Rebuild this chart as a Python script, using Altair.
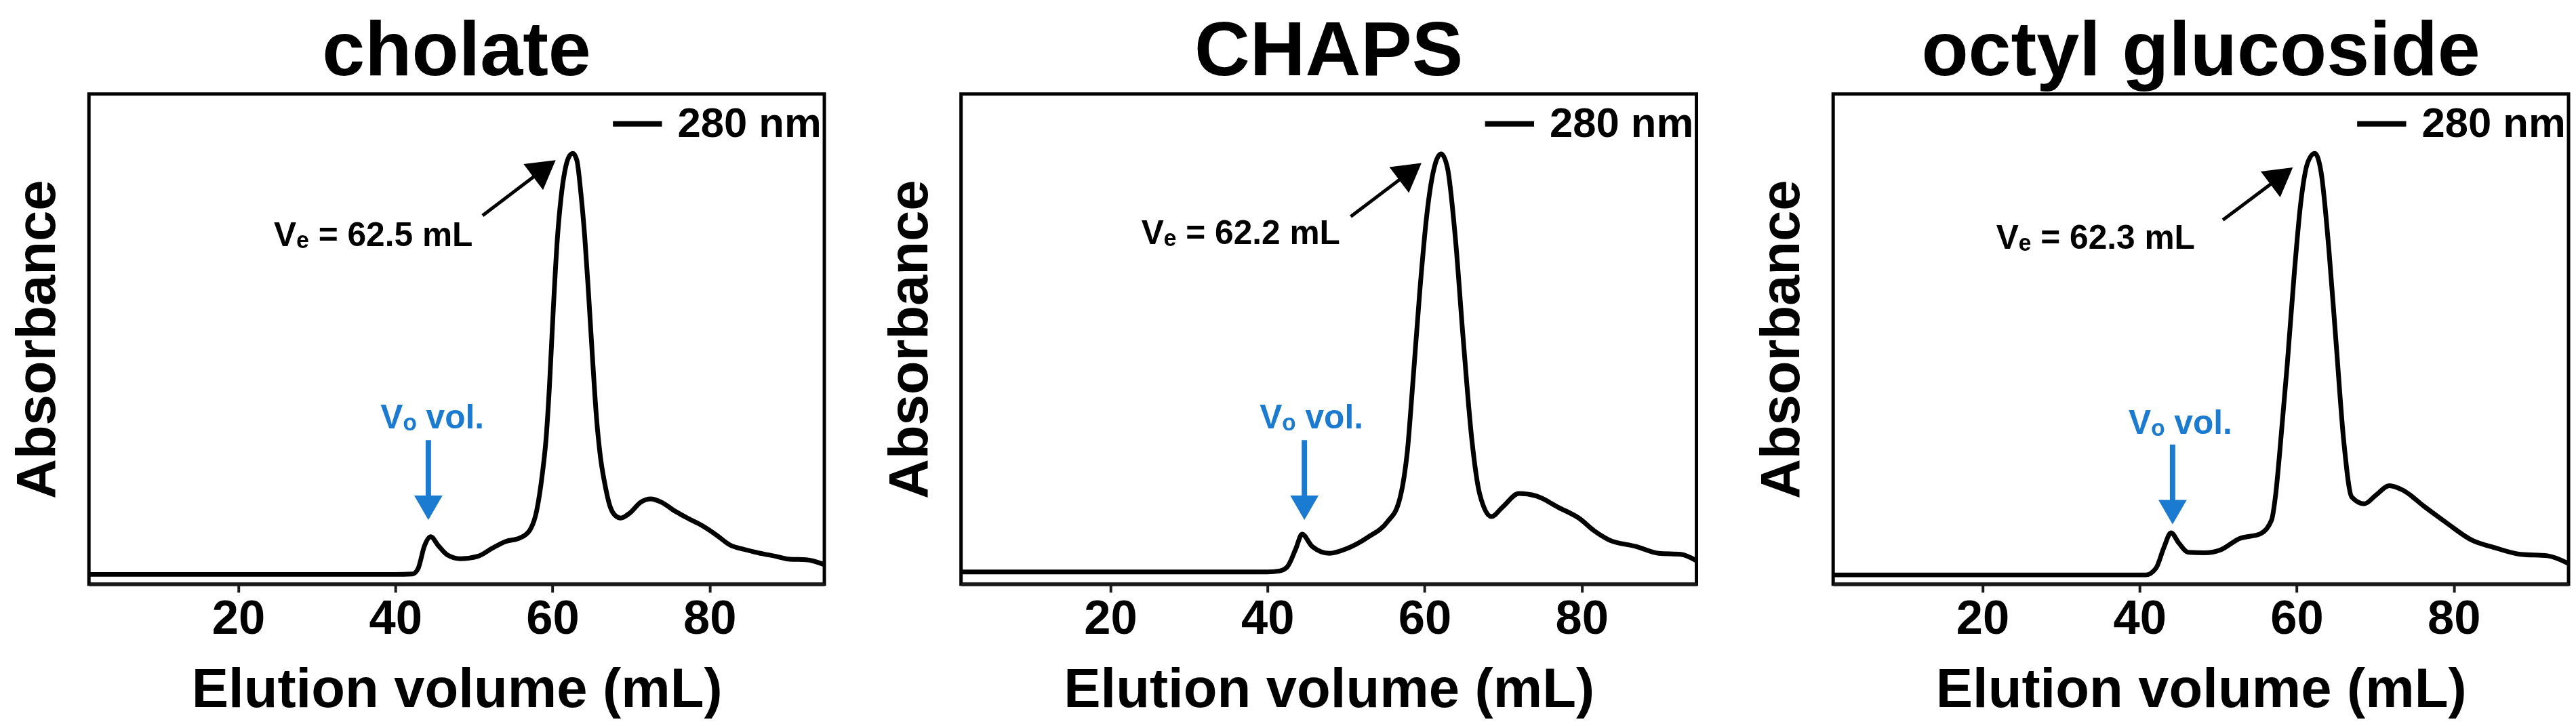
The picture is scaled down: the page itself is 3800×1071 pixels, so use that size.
import altair as alt
import pandas as pd

# ---------------- data ----------------
panel_titles = ["cholate", "CHAPS", "octyl glucoside"]
ve_labels = ["Vₑ = 62.5 mL", "Vₑ = 62.2 mL", "Vₑ = 62.3 mL"]
vo_label = "Vₒ vol."
legend_label = "280 nm"
x_ticks = [20, 40, 60, 80]

cholate_vol = [1, 10, 20, 30, 40, 42.2, 42.9, 43.7, 44.5, 45.5, 46.6, 48.3, 50.5, 52.3, 54.0,
               55.8, 57.1, 58.0, 58.7, 59.2, 59.6, 60.1, 60.6, 61.1, 61.6, 62.1, 62.6, 63.1,
               63.6, 64.1, 64.6, 65.1, 65.6, 66.1, 66.6, 67.3, 68.0, 68.7, 69.9, 71.2, 72.5,
               73.9, 75.6, 77.4, 79.1, 80.9, 82.6, 84.4, 86.2, 88.4, 90.2, 92.3, 94.6]
cholate_abs = [0.02, 0.02, 0.02, 0.02, 0.02, 0.021, 0.032, 0.078, 0.097, 0.078, 0.06, 0.052,
               0.057, 0.073, 0.087, 0.094, 0.11, 0.151, 0.224, 0.30, 0.40, 0.56, 0.70, 0.79,
               0.845, 0.872, 0.879, 0.865, 0.80, 0.71, 0.59, 0.46, 0.34, 0.26, 0.21, 0.16,
               0.14, 0.135, 0.146, 0.167, 0.174, 0.167, 0.149, 0.133, 0.119, 0.10, 0.08,
               0.071, 0.064, 0.057, 0.051, 0.05, 0.04]

chaps_vol = [1, 20, 40, 41.5, 42.5, 43.6, 44.4, 45.7, 47.9, 50.0, 52.8, 55.3, 56.7, 57.4,
             57.8, 58.5, 59.4, 60.3, 61.4, 62.1, 62.9, 63.9, 64.9, 66.0, 67.0, 68.5, 69.9,
             72.0, 74.2, 77.0, 79.8, 81.5, 83.4, 86.9, 89.8, 92.6, 94.6]
chaps_abs = [0.025, 0.025, 0.025, 0.027, 0.035, 0.072, 0.102, 0.077, 0.063, 0.072, 0.096,
             0.128, 0.166, 0.22, 0.27, 0.41, 0.60, 0.756, 0.86, 0.878, 0.85, 0.709, 0.503,
             0.297, 0.185, 0.138, 0.157, 0.185, 0.18, 0.157, 0.133, 0.11, 0.091, 0.077,
             0.063, 0.061, 0.048]

octyl_vol = [1, 20, 40.8, 42.1, 43.1, 44.0, 45.0, 46.2, 48.3, 50.3, 52.7, 55.4, 56.8, 57.3,
             57.8, 58.8, 59.7, 60.5, 61.4, 62.3, 63.1, 64.1, 65.0, 66.0, 67.0, 68.6, 70.1,
             71.8, 73.5, 76.2, 79.0, 82.4, 85.1, 88.5, 91.9, 94.6]
octyl_abs = [0.019, 0.019, 0.019, 0.033, 0.075, 0.105, 0.084, 0.065, 0.064, 0.07, 0.093,
             0.103, 0.131, 0.18, 0.262, 0.449, 0.636, 0.776, 0.86, 0.879, 0.841, 0.682,
             0.495, 0.29, 0.178, 0.164, 0.182, 0.201, 0.192, 0.159, 0.126, 0.089, 0.075,
             0.061, 0.058, 0.042]

# annotation anchors (data units)
ve_text_x = [37.2, 36.6, 34.4]
ve_text_y = [0.71, 0.715, 0.705]
ve_tail_x = [51.1, 50.6, 50.6]
ve_tail_y = [0.752, 0.75, 0.743]
ve_tip_x = [60.4, 59.6, 59.5]
ve_tip_y = [0.865, 0.859, 0.85]
vo_x = [44.2, 44.7, 44.2]
vo_text_x = [44.7, 45.6, 45.2]
vo_text_y = [0.338, 0.338, 0.328]
vo_top_y = [0.294, 0.294, 0.285]
vo_tip_y = [0.131, 0.131, 0.122]

series_vol = [cholate_vol, chaps_vol, octyl_vol]
series_abs = [cholate_abs, chaps_abs, octyl_abs]

BLUE = "#1a7bd0"
FONT = "Liberation Sans"
XDOM = [1, 94.6]


def X(field="x"):
    return alt.X(f"{field}:Q",
                 scale=alt.Scale(domain=XDOM, nice=False, zero=False),
                 axis=alt.Axis(values=x_ticks, grid=False),
                 title="Elution volume (mL)")


def Y(field="y"):
    return alt.Y(f"{field}:Q",
                 scale=alt.Scale(domain=[0, 1], nice=False, zero=False),
                 axis=alt.Axis(labels=False, ticks=False, domain=False, grid=False),
                 title="Absorbance")


def panel(i):
    df = pd.DataFrame({"x": series_vol[i], "y": series_abs[i], "series": legend_label})
    line = alt.Chart(df).mark_line(strokeWidth=7, interpolate="monotone", clip=True).encode(
        x=X(), y=Y(),
        color=alt.Color("series:N",
                        scale=alt.Scale(domain=[legend_label], range=["#000000"]),
                        legend=alt.Legend(title=None, orient="top-right", offset=4, padding=0,
                                          symbolType="stroke", symbolStrokeWidth=8,
                                          symbolSize=5300, labelFontSize=62, labelFont=FONT,
                                          labelFontWeight="bold", labelOffset=19,
                                          labelColor="black", labelLimit=400)))

    # black arrow to main peak
    hx = ve_tip_x[i] - 1.42
    hy = ve_tip_y[i] - 0.0172
    shaft = alt.Chart(pd.DataFrame({"x": [ve_tail_x[i]], "y": [ve_tail_y[i]],
                                    "x2": [hx], "y2": [hy]})).mark_rule(
        strokeWidth=5, color="black").encode(x=X(), y=Y(), x2="x2:Q", y2="y2:Q")
    head = alt.Chart(pd.DataFrame({"x": [hx], "y": [hy]})).mark_point(
        shape="triangle-up", filled=True, size=2304, angle=53, color="black",
        opacity=1, strokeWidth=0).encode(x=X(), y=Y())
    ve_txt = alt.Chart(pd.DataFrame({"x": [ve_text_x[i]], "y": [ve_text_y[i]],
                                     "label": [ve_labels[i]]})).mark_text(
        fontSize=50, font=FONT, fontWeight="bold", color="black",
        align="center", baseline="middle").encode(x=X(), y=Y(), text="label:N")

    # blue void-volume arrow
    vhy = vo_tip_y[i] + 0.025
    vshaft = alt.Chart(pd.DataFrame({"x": [vo_x[i]], "y": [vo_top_y[i]],
                                     "y2": [vhy]})).mark_rule(
        strokeWidth=8, color=BLUE).encode(x=X(), y=Y(), y2="y2:Q")
    vhead = alt.Chart(pd.DataFrame({"x": [vo_x[i]], "y": [vhy]})).mark_point(
        shape="triangle-down", filled=True, size=1764, color=BLUE,
        opacity=1, strokeWidth=0).encode(x=X(), y=Y())
    vo_txt = alt.Chart(pd.DataFrame({"x": [vo_text_x[i]], "y": [vo_text_y[i]],
                                     "label": [vo_label]})).mark_text(
        fontSize=50, font=FONT, fontWeight="bold", color=BLUE,
        align="center", baseline="middle").encode(x=X(), y=Y(), text="label:N")

    return alt.layer(line, shaft, head, ve_txt, vshaft, vhead, vo_txt).properties(
        width=1092, height=728, title=alt.TitleParams(text=panel_titles[i]))


chart = alt.hconcat(panel(0), panel(1), panel(2), spacing=80).resolve_scale(
    color="independent"
).configure_view(
    stroke="black", strokeWidth=5
).configure_title(
    font=FONT, fontSize=114, fontWeight="bold", color="black",
    anchor="middle", frame="group", offset=0
).configure_axisX(
    domainColor="#1a1a1a", domainWidth=5, tickColor="#1a1a1a", tickWidth=4, tickSize=12,
    labelFontSize=71, labelFont=FONT, labelFontWeight="bold", labelColor="black",
    labelPadding=5, titleFontSize=82, titleFont=FONT, titleFontWeight="bold",
    titleColor="black", titlePadding=30
).configure_axisY(
    titleFontSize=82, titleFont=FONT, titleFontWeight="bold", titleColor="black",
    titlePadding=34
).properties(padding={"left": 4, "top": 6, "right": 0, "bottom": 0}, background="white")

chart.save("out.html", embed_options={"renderer": "svg", "actions": False})
